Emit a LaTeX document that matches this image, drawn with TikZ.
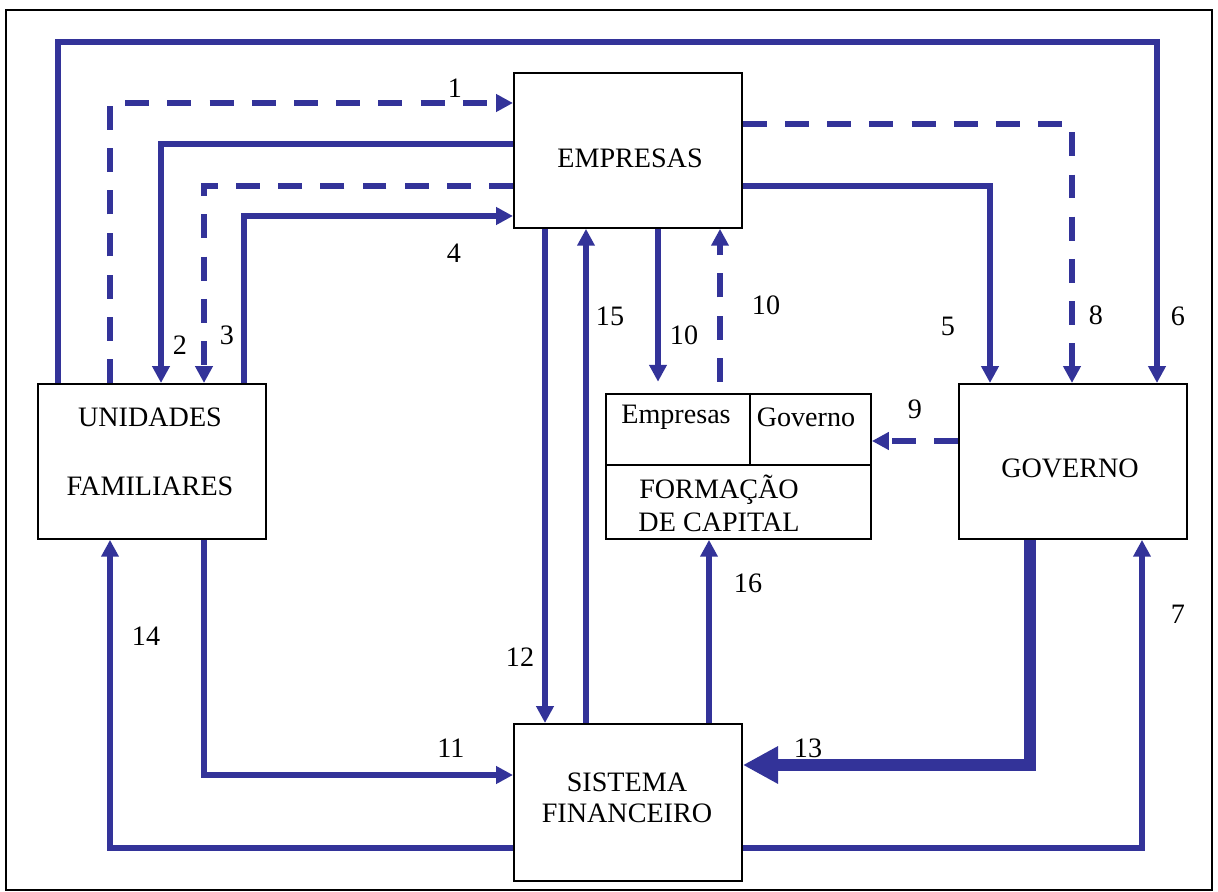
\documentclass[tikz,border=0pt]{standalone}
\usepackage{fontspec}
\setmainfont{Liberation Serif}
\usetikzlibrary{arrows.meta}
\definecolor{flow}{RGB}{51,51,153}
\begin{document}
\begin{tikzpicture}[x=0.025cm,y=-0.025cm,
  box/.style={draw=black,line width=1.3pt,inner sep=0pt,anchor=north west},
  txt/.style={font=\fontsize{20}{24}\selectfont,inner sep=0pt},
  flowline/.style={draw=flow,line width=3.9pt,-{Triangle[length=12pt,width=12pt]}},
  dashflow/.style={flowline,dash pattern=on 17pt off 13pt},
  bigflow/.style={draw=flow,line width=8pt,-{Triangle[length=25pt,width=25pt]}}]

\useasboundingbox (0,0) rectangle (1218,892);
\draw[line width=1.4pt] (6,10) rectangle (1212,890);

% sectors
\node[box,minimum width=5.7cm,minimum height=3.875cm] (emp) at (513,72) {};
\node[box,minimum width=5.7cm,minimum height=3.875cm] (uf) at (37,383) {};
\node[box,minimum width=5.7cm,minimum height=3.875cm] (gov) at (958,383) {};
\node[box,minimum width=5.7cm,minimum height=3.925cm] (sf) at (513,723) {};
\node[box,minimum width=6.625cm,minimum height=3.625cm] (fc) at (605,393) {};
\draw[line width=1.3pt] (fc.west |- 0,465) -- (fc.east |- 0,465);
\draw[line width=1.3pt] (fc.north -| 750,0) -- (750,465);

\node[txt] (tEmp) at (630,158) {EMPRESAS};
\node[txt] (tUf1) at (150,417) {UNIDADES};
\node[txt] (tUf2) at (150,486) {FAMILIARES};
\node[txt] (tGov) at (1070,468) {GOVERNO};
\node[txt] (tSf1) at (627,782) {SISTEMA};
\node[txt] (tSf2) at (627,813) {FINANCEIRO};
\node[txt] (tFcE) at (676,417) {Empresas};
\node[txt] (tFcG) at (806,417) {Governo};
\node[txt] (tFc1) at (719,490) {FORMAÇÃO};
\node[txt] (tFc2) at (719,522) {DE CAPITAL};

% flows
\draw[flowline] (uf.north -| 58,0) |- (1157,42) -- (gov.north -| 1157,0);
\draw[dashflow] (uf.north -| 110,0) |- (emp.west |- 0,103);
\draw[flowline] (emp.west |- 0,144) -| (uf.north -| 161,0);
\draw[dashflow] (emp.west |- 0,186) -| (uf.north -| 204,0);
\draw[flowline] (uf.north -| 244,0) |- (emp.west |- 0,216);
\draw[dashflow] (emp.east |- 0,124) -| (gov.north -| 1072,0);
\draw[flowline] (emp.east |- 0,186) -| (gov.north -| 990,0);
\draw[flowline] (emp.south -| 545,0) -- (sf.north -| 545,0);
\draw[flowline] (sf.north -| 586,0) -- (emp.south -| 586,0);
\draw[flowline,shorten >=8pt] (emp.south -| 658,0) -- (fc.north -| 658,0);
\draw[dashflow,shorten <=8pt] (fc.north -| 720,0) -- (emp.south -| 720,0);
\draw[dashflow] (gov.west |- 0,441) -- (fc.east |- 0,441);
\draw[flowline] (sf.north -| 709,0) -- (fc.south -| 709,0);
\draw[bigflow] (gov.south -| 1030,0) |- (sf.east |- 0,765);
\draw[flowline] (sf.east |- 0,848) -| (gov.south -| 1142,0);
\draw[flowline] (sf.west |- 0,848) -| (uf.south -| 110,0);
\draw[flowline] (uf.south -| 204,0) |- (sf.west |- 0,775);

% flow numbers
\node[txt] (n1) at (455,88) {1};
\node[txt] (n2) at (180,345) {2};
\node[txt] (n3) at (227,335) {3};
\node[txt] (n4) at (454,253) {4};
\node[txt] (n5) at (948,326) {5};
\node[txt] (n6) at (1178,316) {6};
\node[txt] (n7) at (1178,614) {7};
\node[txt] (n8) at (1096,315) {8};
\node[txt] (n9) at (915,409) {9};
\node[txt] (n10a) at (684,335) {10};
\node[txt] (n10b) at (766,305) {10};
\node[txt] (n11) at (451,748) {11};
\node[txt] (n12) at (520,657) {12};
\node[txt] (n13) at (808,748) {13};
\node[txt] (n14) at (146,636) {14};
\node[txt] (n15) at (610,316) {15};
\node[txt] (n16) at (748,583) {16};
\end{tikzpicture}
\end{document}
